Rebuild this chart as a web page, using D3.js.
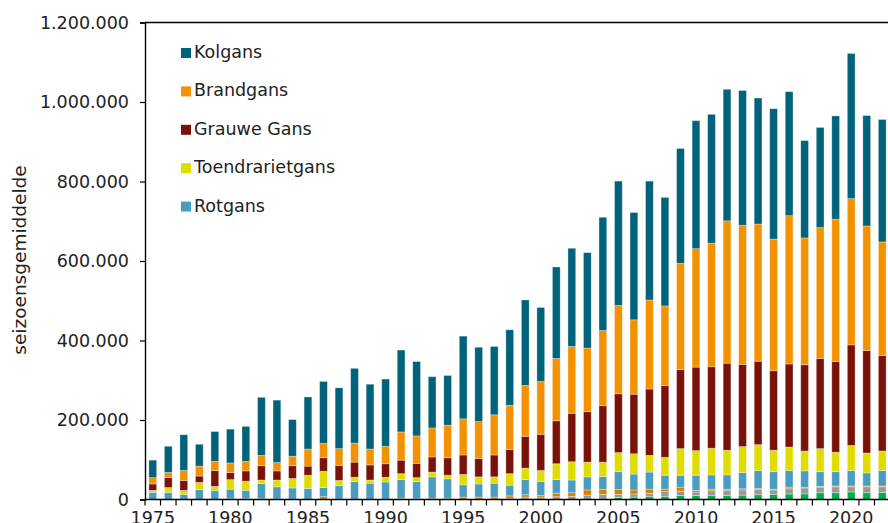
<!DOCTYPE html>
<html>
<head>
<meta charset="utf-8">
<script src="https://cdn.jsdelivr.net/npm/d3@7"></script>
<style>
  body { margin: 0; background: #fff; }
  svg { display: block; font-family: 'DejaVu Sans', sans-serif; }
</style>
</head>
<body>
<script>
var width  = 888
var height = 523
var margin = { top: 22.5, right: -2, bottom: 23.5, left: 145 }
var font = "'DejaVu Sans', sans-serif"

// seasonal averages, in thousands of birds
var years = d3.range(1975, 2023)
var kolgans = [44,66,90,55,75,85,88,146,157,92,131,156,153,188,163,169,206,187,129,125,208,187,172,190,215,186,230,247,240,285,313,270,299,273,289,322,324,331,339,317,328,312,245,252,260,365,278,308]
var brandgans = [16,13,25,25,23,24,24,26,21,24,43,36,42,48,40,44,71,69,73,82,91,93,101,111,128,133,157,168,160,189,222,187,224,200,267,298,311,358,350,345,331,373,319,329,358,368,313,286]
var grauweGans = [16,25,25,16,40,18,26,36,23,32,23,34,38,38,38,34,34,36,38,44,49,46,55,61,80,91,108,122,127,142,148,150,167,181,199,210,205,219,207,210,200,209,217,227,228,253,258,240]
var toendrarietgans = [5,12,10,18,10,24,23,9,17,24,33,41,13,11,8,12,15,10,12,9,26,18,16,29,29,28,40,46,37,36,48,51,42,45,67,62,67,62,65,65,54,59,50,58,49,63,50,49]
var rotgans = [18,18,13,25,23,24,21,38,31,28,27,23,34,44,40,43,47,43,54,49,31,33,35,27,38,35,34,32,33,33,45,40,43,35,30,38,36,36,41,45,44,42,41,37,36,39,33,39]
var kleineRietgans = [0,0,0,0,0,2,2,2,1,1,1,7,1,1,1,1,3,2,3,3,6,6,6,6,6,4,9,9,13,12,12,10,10,6,10,4,4,3,3,3,2,4,2,2,2,2,2,2]
var nijlgans = [0,0,0,0,0,0,0,0,0,0,0,0,0,0,0,0,0,0,0,0,0,0,0,3,6,6,7,8,11,12,8,8,9,13,11,9,12,13,13,13,11,13,15,14,15,13,15,14]
var canadeseGans = [0,0,0,0,0,0,0,0,0,0,0,0,0,0,0,0,0,0,0,0,0,0,0,0,0,0,0,0,0,1,5,6,7,7,10,10,10,10,11,12,13,14,14,17,17,19,17,18]

// bottom to top
var series = [
  { key: 'Canadese Gans',   values: canadeseGans,    color: '#00ad4f' },
  { key: 'Nijlgans',        values: nijlgans,        color: '#999999' },
  { key: 'Kleine Rietgans', values: kleineRietgans,  color: '#dc7d00' },
  { key: 'Rotgans',         values: rotgans,         color: '#4a9cc0' },
  { key: 'Toendrarietgans', values: toendrarietgans, color: '#dfdd00' },
  { key: 'Grauwe Gans',     values: grauweGans,      color: '#79130a' },
  { key: 'Brandgans',       values: brandgans,       color: '#f39200' },
  { key: 'Kolgans',         values: kolgans,         color: '#00627b' }
]
var legendKeys = ['Kolgans', 'Brandgans', 'Grauwe Gans', 'Toendrarietgans', 'Rotgans']
var yTicks = [0, 200, 400, 600, 800, 1000, 1200]

var table = years.map((yr, i) => {
  var row = { year: yr }
  series.forEach(s => { row[s.key] = s.values[i] })
  return row
})
var stacked = d3.stack().keys(series.map(s => s.key))(table)

var nl = d3.formatLocale({ decimal: ',', thousands: '.', grouping: [3], currency: ['€', ''] })
var fmt = nl.format(',d')

var svg = d3.select('body')
  .append('svg')
  .attr('width', width)
  .attr('height', height)

var xScale = d3.scaleBand()
  .domain(years)
  .range([margin.left, width - margin.right])
  .paddingInner(0.5)
  .paddingOuter(0.25)

var yScale = d3.scaleLinear()
  .domain([0, 1200])
  .range([height - margin.bottom, margin.top])

var colorOf = {}
series.forEach(s => { colorOf[s.key] = s.color })

svg.append('g')
  .selectAll('g')
  .data(stacked)
  .join('g')
  .attr('fill', d => colorOf[d.key])
  .selectAll('rect')
  .data(d => d)
  .join('rect')
  .attr('x', d => xScale(d.data.year))
  .attr('width', xScale.bandwidth())
  .attr('y', d => yScale(d[1]))
  .attr('height', d => yScale(d[0]) - yScale(d[1]))
  .attr('stroke', 'rgba(255,255,255,0.4)')
  .attr('stroke-width', 0.8)

// top frame line
svg.append('line')
  .attr('x1', margin.left).attr('x2', width)
  .attr('y1', yScale(1200)).attr('y2', yScale(1200))
  .attr('stroke', '#000').attr('stroke-width', 1.4)

var yAxis = d3.axisLeft(yScale)
  .tickValues(yTicks)
  .tickSize(5)
  .tickPadding(11)
  .tickFormat(d => fmt(d * 1000))

svg.append('g')
  .attr('transform', 'translate(' + [margin.left, 0] + ')')
  .call(yAxis)
  .attr('font-family', font)
  .attr('font-size', 17.5)
  .call(g => g.select('.domain').attr('stroke-width', 1.4))
  .call(g => g.selectAll('.tick line').attr('stroke-width', 1.2))
  .call(g => g.selectAll('text').attr('fill', '#222'))

// year labels every 5 years, ticks on the year boundaries
var half = xScale.step() * xScale.paddingOuter()
var xAxis = d3.axisBottom(xScale)
  .tickValues(years.filter(y => y % 5 === 0))
  .tickSize(0)
  .tickPadding(12)

var xg = svg.append('g')
  .attr('transform', 'translate(' + [0, yScale(0)] + ')')
  .call(xAxis)
  .attr('font-family', font)
  .attr('font-size', 17.5)
xg.select('.domain').attr('d', 'M' + margin.left + ',0H' + width).attr('stroke-width', 1.4)
xg.selectAll('text').attr('fill', '#222')
xg.selectAll('.bound')
  .data(years)
  .join('line')
  .attr('class', 'bound')
  .attr('x1', d => xScale(d) - half).attr('x2', d => xScale(d) - half)
  .attr('y1', 0).attr('y2', 6)
  .attr('stroke', '#000').attr('stroke-width', 1.2)

svg.append('text')
  .attr('transform', 'translate(26,' + 260 + ') rotate(-90)')
  .attr('text-anchor', 'middle')
  .attr('font-size', 18.5)
  .attr('fill', '#222')
  .text('seizoensgemiddelde')

var legend = svg.append('g')
  .selectAll('g')
  .data(legendKeys)
  .join('g')
  .attr('transform', (d, i) => 'translate(181,' + (53 + i * 38.4) + ')')

legend.append('rect')
  .attr('x', 0).attr('y', -5)
  .attr('width', 10).attr('height', 10)
  .attr('fill', d => colorOf[d])

legend.append('text')
  .attr('x', 13).attr('y', 5)
  .attr('font-size', 17.5)
  .attr('fill', '#222')
  .text(d => d)
</script>
</body>
</html>
